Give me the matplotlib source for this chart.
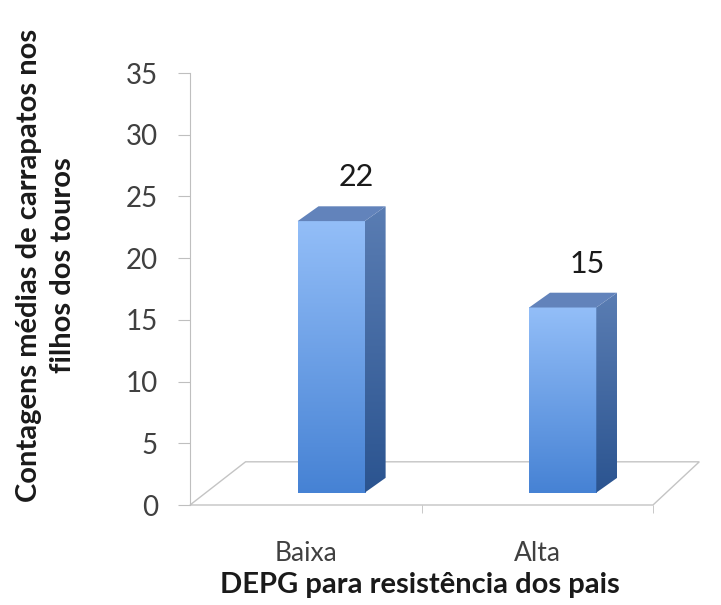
import numpy as np
import matplotlib

matplotlib.use("Agg")
import matplotlib.pyplot as plt  # noqa: E402
from matplotlib.patches import Polygon  # noqa: E402
from matplotlib.colors import LinearSegmentedColormap  # noqa: E402

# Dados
categorias = ["Baixa", "Alta"]
contagens = [22, 15]
y_ticks = [0, 5, 10, 15, 20, 25, 30, 35]

plt.rcParams["font.family"] = ["Lato", "DejaVu Sans"]

fig = plt.figure(figsize=(7.21, 6.05), dpi=100)
ax = fig.add_axes([190 / 721, 100 / 605, 463 / 721, 432 / 605])

# deslocamentos do "3D" falso (em unidades de dados)
desl_x, desl_y = 0.11, 1.0      # face frontal da barra em relação à borda do piso
prof_x, prof_y = 0.09, 1.2      # profundidade da barra
piso_xe, piso_xd, piso_y = 0.24, 0.20, 3.5
largura = 0.29

x = np.arange(len(categorias))

# piso
piso = Polygon([(-0.5, 0), (1.5, 0), (1.5 + piso_xd, piso_y), (-0.5 + piso_xe, piso_y)],
               closed=True, facecolor="white", edgecolor="#c4c4c4", lw=1.0,
               clip_on=False, zorder=1)
ax.add_patch(piso)

cm_frente = LinearSegmentedColormap.from_list("frente", ["#4682d4", "#93bef8"])
cm_lado = LinearSegmentedColormap.from_list("lado", ["#2b5490", "#5a7db3"])
grad = np.linspace(0, 1, 256).reshape(-1, 1)

barras = ax.bar(x + desl_x, contagens, width=largura, bottom=desl_y,
                color="none", edgecolor="none", zorder=3)

for ret, v in zip(barras, contagens):
    x0, y0 = ret.get_x(), ret.get_y()
    x1, y1 = x0 + ret.get_width(), y0 + ret.get_height()

    # face frontal com degradê
    im = ax.imshow(grad, extent=(x0, x1, y0, y1), origin="lower", cmap=cm_frente,
                   aspect="auto", zorder=3, clip_on=False)
    im.set_clip_path(ret)

    # face lateral
    lado = Polygon([(x1, y0), (x1 + prof_x, y0 + prof_y), (x1 + prof_x, y1 + prof_y), (x1, y1)],
                   closed=True, facecolor="none", edgecolor="none", zorder=3)
    ax.add_patch(lado)
    im2 = ax.imshow(grad, extent=(x1, x1 + prof_x, y0, y1 + prof_y), origin="lower",
                    cmap=cm_lado, aspect="auto", zorder=3)
    im2.set_clip_path(lado)

    # topo
    topo = Polygon([(x0, y1), (x1, y1), (x1 + prof_x, y1 + prof_y), (x0 + prof_x, y1 + prof_y)],
                   closed=True, facecolor="#6283bb", edgecolor="none", zorder=4)
    ax.add_patch(topo)

    ax.annotate(str(v), xy=((x0 + x1) / 2, y1), xytext=(25, 44),
                textcoords="offset pixels", ha="center", va="center",
                fontsize=22, color="#1a1a1a")

ax.set_xlim(-0.5, 1.5)
ax.set_ylim(0, 35)
ax.set_yticks(y_ticks)
ax.set_xticks(x)
ax.set_xticklabels(categorias)
ax.set_xticks([0.5, 1.5], minor=True)

for lado_ in ["top", "right", "bottom"]:
    ax.spines[lado_].set_visible(False)
ax.spines["left"].set_color("#bfbfbf")

ax.tick_params(axis="y", length=9, color="#bfbfbf", pad=14, labelsize=20, labelcolor="#404040")
ax.tick_params(axis="x", which="major", length=0, pad=26, labelsize=19, labelcolor="#404040")
ax.tick_params(axis="x", which="minor", length=6, color="#bfbfbf")

fig.text(46 / 721, 1 - 265 / 605, "Contagens médias de carrapatos nos\nfilhos dos touros",
         rotation=90, ha="center", va="center", multialignment="center",
         fontsize=21, fontweight="bold", color="#1a1a1a", linespacing=1.35)
fig.text(420 / 721, 1 - 585 / 605, "DEPG para resistência dos pais",
         ha="center", va="center", fontsize=21, fontweight="bold", color="#1a1a1a")

fig.savefig("out.png", dpi=100)
